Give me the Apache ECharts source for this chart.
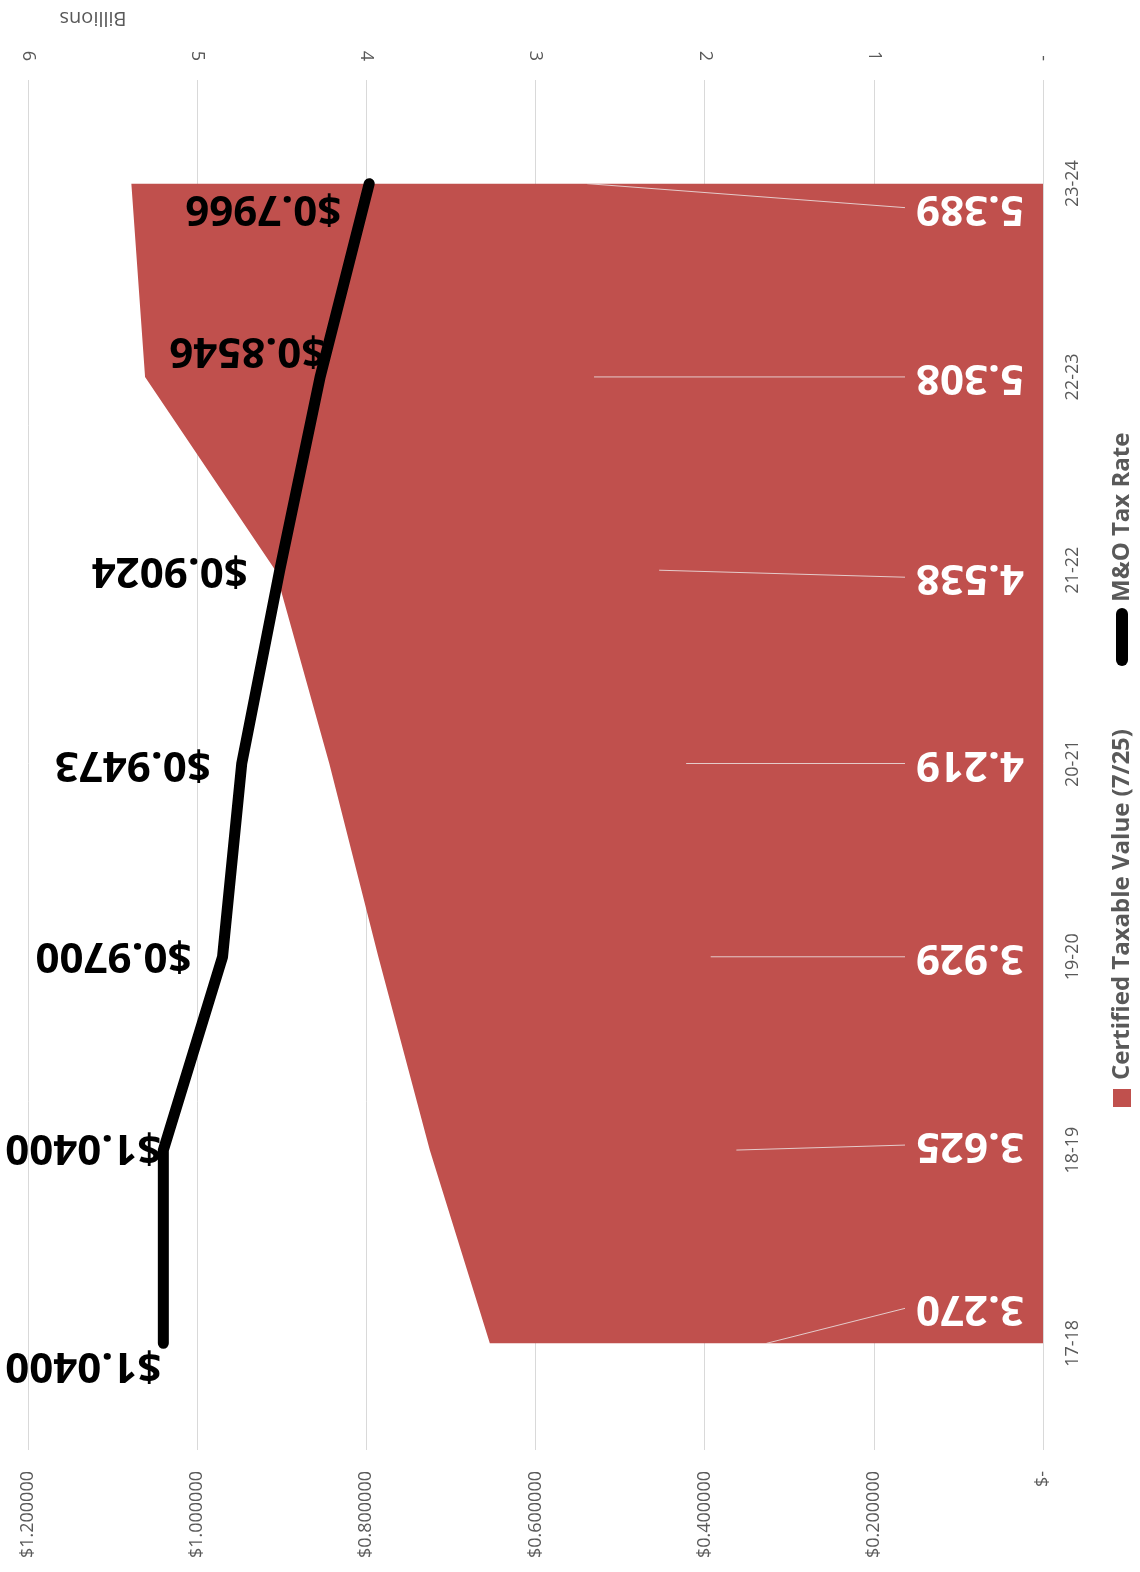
<!DOCTYPE html>
<html>
<head>
<meta charset="utf-8">
<script src="https://cdn.jsdelivr.net/npm/echarts@6/dist/echarts.min.js"></script>
<style>
  html, body { margin: 0; background: #fff; }
  #chart { width: 1140px; height: 1572px; }
</style>
</head>
<body>
<div id="chart"></div>
<script>
// data
const years = ['17-18', '18-19', '19-20', '20-21', '21-22', '22-23', '23-24']
const taxableValue = [3.270, 3.625, 3.929, 4.219, 4.538, 5.308, 5.389] // billions
const taxRate = [1.0400, 1.0400, 0.9700, 0.9473, 0.9024, 0.8546, 0.7966]
const billionTickLabels = ['-', '1', '2', '3', '4', '5', '6']
const rateTickLabels = ['$-', '$0.200000', '$0.400000', '$0.600000', '$0.800000', '$1.000000', '$1.200000']

// hand placed label nudges, px
const valueLabelDy = [-35, -5, 0, 0, 7, 0, 24]
const rateLabelDx = [-80, -80, -109, -109, -110, -73, -106]
const rateLabelDy = [22, -3, -2, 0, 0, -27, 24]

const RED = '#C0504D'
const GRID = '#D9D9D9'
const AXIS_TEXT = '#595959'
const FONT = '"Open Sans", "Liberation Sans", sans-serif'

const chart = echarts.init(document.getElementById('chart'))

const option = {
  animation: false,
  grid: { left: 28, right: 97, top: 87, bottom: 132 },
  xAxis: [
    {
      type: 'value',
      position: 'top',
      inverse: true,
      min: 0,
      max: 6,
      interval: 1,
      axisLine: { show: false },
      axisTick: { show: true, length: 7, lineStyle: { color: GRID } },
      axisLabel: {
        rotate: 90,
        margin: 26,
        color: AXIS_TEXT,
        fontSize: 18,
        fontFamily: FONT,
        formatter: v => billionTickLabels[Math.round(v)]
      },
      splitLine: { show: true, lineStyle: { color: GRID, width: 1 } }
    },
    {
      type: 'value',
      position: 'bottom',
      inverse: true,
      min: 0,
      max: 1.2,
      interval: 0.2,
      axisLine: { show: false },
      axisTick: { show: true, length: 10, lineStyle: { color: GRID } },
      axisLabel: {
        rotate: 90,
        margin: 31,
        color: AXIS_TEXT,
        fontSize: 18,
        fontFamily: FONT,
        formatter: v => rateTickLabels[Math.round(v / 0.2)]
      },
      splitLine: { show: false }
    }
  ],
  yAxis: {
    type: 'category',
    position: 'right',
    data: years,
    boundaryGap: true,
    axisLine: { show: true, lineStyle: { color: GRID } },
    axisTick: { show: false },
    axisLabel: { rotate: 90, margin: 21, color: AXIS_TEXT, fontSize: 18, fontFamily: FONT },
    splitLine: { show: false }
  },
  series: [
    {
      name: 'Certified Taxable Value (7/25)',
      type: 'line',
      xAxisIndex: 0,
      yAxisIndex: 0,
      data: taxableValue,
      symbol: 'none',
      lineStyle: { width: 0 },
      areaStyle: { color: RED, opacity: 1 },
      z: 2
    },
    {
      name: 'M&O Tax Rate',
      type: 'line',
      xAxisIndex: 1,
      yAxisIndex: 0,
      data: taxRate,
      symbol: 'none',
      lineStyle: { color: '#000', width: 11, cap: 'round', join: 'round' },
      z: 4
    },
    {
      // white value labels with leader lines to the middle of the area
      type: 'custom',
      xAxisIndex: 0,
      yAxisIndex: 0,
      data: taxableValue.map((v, i) => [v, i]),
      z: 3,
      renderItem(params, api) {
        const i = params.dataIndex
        const v = api.value(0)
        const c = api.value(1)
        const zero = api.coord([0, c])
        const mid = api.coord([v / 2, c])
        const ly = zero[1] + valueLabelDy[i]
        return {
          type: 'group',
          children: [
            {
              type: 'line',
              shape: { x1: zero[0] - 138, y1: ly, x2: mid[0], y2: mid[1] },
              style: { stroke: 'rgba(235,225,225,0.85)', lineWidth: 1 }
            },
            {
              type: 'text',
              x: zero[0] - 73,
              y: ly,
              rotation: Math.PI,
              style: {
                text: v.toFixed(3),
                fill: '#fff',
                font: 'bold 42px ' + FONT,
                align: 'center',
                verticalAlign: 'middle'
              }
            }
          ]
        }
      }
    },
    {
      // black rate labels
      type: 'custom',
      xAxisIndex: 1,
      yAxisIndex: 0,
      data: taxRate.map((r, i) => [r, i]),
      z: 5,
      renderItem(params, api) {
        const i = params.dataIndex
        const r = api.value(0)
        const p = api.coord([r, api.value(1)])
        return {
          type: 'text',
          x: p[0] + rateLabelDx[i],
          y: p[1] + rateLabelDy[i],
          rotation: Math.PI,
          style: {
            text: '$' + r.toFixed(4),
            fill: '#000',
            font: 'bold 42px ' + FONT,
            align: 'center',
            verticalAlign: 'middle'
          }
        }
      }
    }
  ],
  graphic: [
    {
      type: 'text',
      x: 93,
      y: 18,
      rotation: Math.PI,
      style: { text: 'Billions', fill: AXIS_TEXT, font: '20px ' + FONT, align: 'center', verticalAlign: 'middle' }
    },
    // legend, turned on its side
    {
      type: 'rect',
      shape: { x: 1113, y: 1089, width: 18, height: 18 },
      style: { fill: RED }
    },
    {
      type: 'text',
      x: 1122,
      y: 1080,
      rotation: Math.PI / 2,
      style: { text: 'Certified Taxable Value (7/25)', fill: AXIS_TEXT, font: 'bold 24px ' + FONT, align: 'left', verticalAlign: 'middle' }
    },
    {
      type: 'line',
      shape: { x1: 1122, y1: 660, x2: 1122, y2: 614 },
      style: { stroke: '#000', lineWidth: 12, lineCap: 'round' }
    },
    {
      type: 'text',
      x: 1122,
      y: 602,
      rotation: Math.PI / 2,
      style: { text: 'M&O Tax Rate', fill: AXIS_TEXT, font: 'bold 24px ' + FONT, align: 'left', verticalAlign: 'middle' }
    }
  ]
}

chart.setOption(option)
</script>
</body>
</html>
